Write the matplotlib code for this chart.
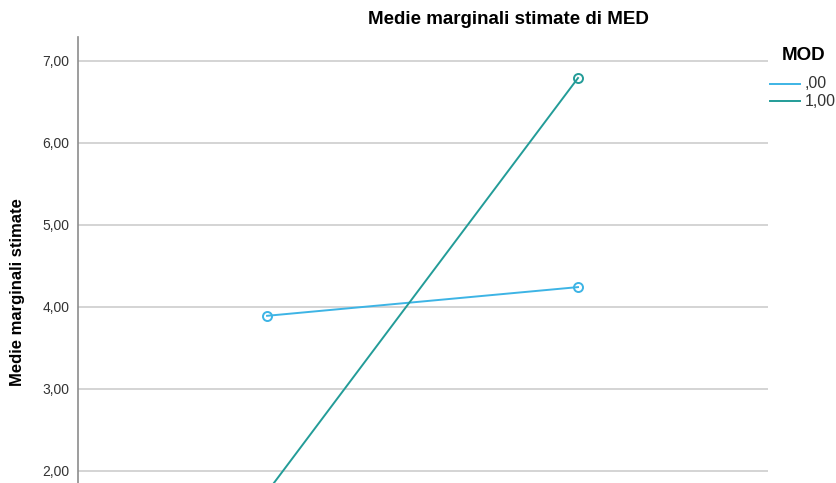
import matplotlib
matplotlib.use('Agg')
import matplotlib.pyplot as plt

plt.rcParams['font.family'] = ['Liberation Sans', 'DejaVu Sans']

# medie marginali stimate per livello di MED, separate per MOD
med_livelli = [',00', '1,00']
mod_livelli = [',00', '1,00']
mod_00 = [3.89, 4.24]
mod_100 = [1.74, 6.79]
y_ticks = [2, 3, 4, 5, 6, 7]
y_tick_labels = ['2,00', '3,00', '4,00', '5,00', '6,00', '7,00']
colori = ['#3db4e5', '#239c98']

W, H = 837, 483
fig = plt.figure(figsize=(W / 100, H / 100), dpi=100)

# area del grafico: parte bassa tagliata fuori dall'immagine
left, right, top = 78, 768, 37
ymin, ymax = 1.0, 7.29
px_per_unit = 82.0
bottom_px = top + (ymax - ymin) * px_per_unit
ax = fig.add_axes([left / W, 1 - bottom_px / H, (right - left) / W, (bottom_px - top) / H])
ax.set_ylim(ymin, ymax)
ax.set_xlim(-0.608, 1.611)

x = list(range(len(med_livelli)))
for serie, col, lab in zip([mod_00, mod_100], colori, mod_livelli):
    ax.plot(x, serie, color=col, lw=1.4, marker='o', ms=6.5, mfc='none', mew=1.4,
            label=lab, zorder=3)

ax.set_yticks(y_ticks)
ax.set_yticklabels(y_tick_labels, fontsize=10, color='#333333')
ax.set_xticks([])
ax.yaxis.grid(True, color='#d4d4d4', lw=1.4)
ax.set_axisbelow(True)
for s in ['top', 'right', 'bottom']:
    ax.spines[s].set_visible(False)
ax.spines['left'].set_color('#8c8c8c')
ax.spines['left'].set_linewidth(1.2)
ax.tick_params(axis='y', length=0, pad=6)

fig.text(508 / W, 1 - 19 / H, 'Medie marginali stimate di MED', ha='center', va='center',
         fontsize=13.5, fontweight='bold')
fig.text(18 / W, 1 - 292 / H, 'Medie marginali stimate', ha='center', va='center',
         rotation=90, fontsize=12, fontweight='bold')

# legenda MOD
fig.text(782 / W, 1 - 56 / H, 'MOD', ha='left', va='center', fontsize=13.5, fontweight='bold')
for i, (lab, col) in enumerate(zip(mod_livelli, colori)):
    yy = 1 - (84 + i * 17) / H
    fig.add_artist(plt.Line2D([770 / W, 800 / W], [yy, yy], color=col, lw=1.4))
    fig.text(805 / W, yy, lab, ha='left', va='center', fontsize=11.5, color='#333333')

fig.savefig('out.png', dpi=100)
